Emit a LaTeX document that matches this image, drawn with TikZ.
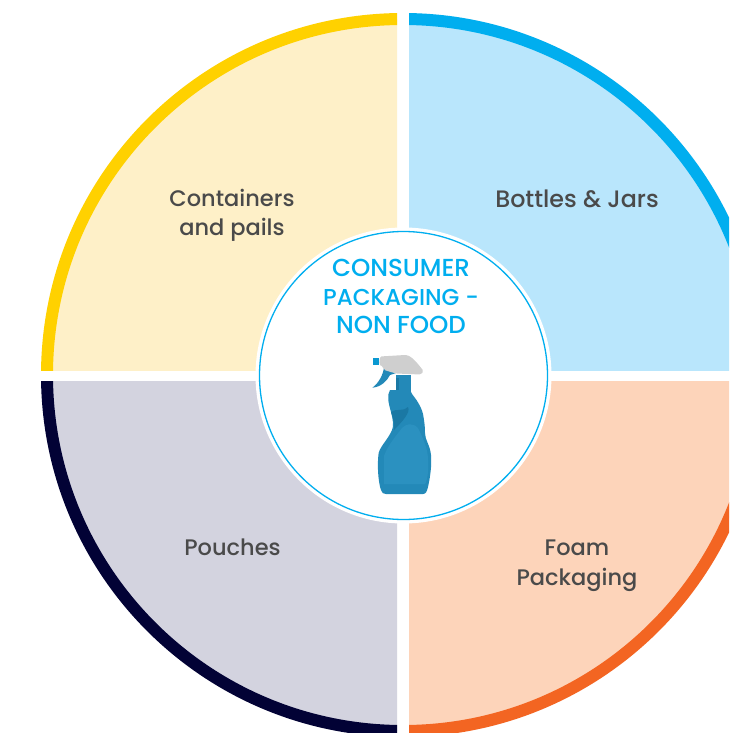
\documentclass[tikz,border=0pt]{standalone}
\usepackage{fontspec}
\setmainfont{Poppins Medium}
\definecolor{cy}{HTML}{FFD100}\definecolor{cyl}{HTML}{FEF0C8}
\definecolor{cb}{HTML}{00AEEF}\definecolor{cbl}{HTML}{B9E6FC}
\definecolor{cn}{HTML}{020235}\definecolor{cnl}{HTML}{D3D3DF}
\definecolor{co}{HTML}{F36522}\definecolor{col}{HTML}{FDD4BA}
\definecolor{lab}{HTML}{4A4A4A}
\definecolor{bot}{HTML}{2389B8}\definecolor{botd}{HTML}{1A78A4}\definecolor{botl}{HTML}{2B91C0}
\tikzset{seclabel/.style={text=lab,font=\fontsize{22.5pt}{29.5pt}\selectfont,align=center,inner sep=0pt},
  widelabel/.style={seclabel,font=\fontsize{23.8pt}{29.5pt}\selectfont},
  title/.style={text=cb,font=\fontsize{23.5pt}{28.5pt}\selectfont,align=center,inner sep=0pt}}
\newcommand{\quadrant}[6]{%
  \begin{scope}
    \clip (#1,#2) rectangle (#3,#4);
    \fill[#5] (403,375) circle[radius=356];
    \draw[#6,line width=12pt] (403,375) circle[radius=356];
  \end{scope}}
\begin{document}
\begin{tikzpicture}[x=1pt,y=-1pt]
\useasboundingbox (0,0) rectangle (729,733);
\fill[white] (0,0) rectangle (729,733);
\quadrant{0}{0}{397}{370}{cyl}{cy}
\quadrant{409}{0}{729}{370}{cbl}{cb}
\quadrant{0}{381}{397}{733}{cnl}{cn}
\quadrant{409}{381}{729}{733}{col}{co}
\fill[white] (403.5,375.5) circle[radius=148];
\node[circle,draw=cb,line width=1.3pt,fill=white,minimum size=288pt,inner sep=0pt] (hub) at (403.5,375.5) {};
\node[seclabel] (tl) at (232,215.5) {Containers\\and pails};
\node[widelabel] (tr) at (577,199) {Bottles \& Jars};
\node[seclabel] (bl) at (232.5,547) {Pouches};
\node[seclabel] (br) at (577,565.5) {Foam\\Packaging};
\node[title] (ttl) at (401,296.5) {{\fontsize{24.6pt}{28.5pt}\selectfont CONSUMER}\\[0.6pt]{\fontsize{23pt}{28.5pt}\selectfont PACKAGING -}\\{\fontsize{24.6pt}{28.5pt}\selectfont NON FOOD}};
% bottle
\fill[bot] (395.7,375) rectangle (411,392);
\fill[botd] (395.7,378) rectangle (399,392);
\fill[bot] (390,390) .. controls (387,395) and (388,402) .. (391,412)
  .. controls (393,420) and (394,426) .. (392,430)
  .. controls (388,440) and (378,448) .. (378.3,456)
  .. controls (377,470) and (379,485) .. (381,490)
  .. controls (382,493) and (383,494) .. (386,494)
  -- (423,494)
  .. controls (426,494) and (427,491) .. (428,487)
  .. controls (430,478) and (432,465) .. (431,455)
  .. controls (430,445) and (425,440) .. (425,433)
  .. controls (425,425) and (424,420) .. (423,414)
  .. controls (421,406) and (416,399) .. (412,394)
  -- (410,390) -- cycle;
\fill[botl] (384,456) .. controls (388,445) and (396,436) .. (402,428) .. controls (406,424) and (412,422) .. (418,428) .. controls (424,440) and (428,450) .. (428,460) .. controls (429,470) and (427,482) .. (425,484) -- (384,484) -- cycle;
\fill[botd] (391,412) .. controls (396,408) and (404,412) .. (408,407) .. controls (411,412) and (402,422) .. (394,430) .. controls (395,424) and (393,418) .. (391,412) -- cycle;
\fill[bot] (396,373) .. controls (392,369) and (387,366) .. (384,366) .. controls (384,374) and (378,384) .. (372.3,387.7) .. controls (381,387) and (387,381) .. (390,375) -- cycle;
\fill[cb!60!botd] (373.3,358) rectangle (379,365);
\fill[black!19,rounded corners=1.5pt] (380,356.5) -- (405,355) .. controls (412,356) and (418,364) .. (423.5,371) -- (421,374.5) -- (396,373.5) -- (384,370) .. controls (383,366) and (380,365) .. (379.3,364) -- cycle;
\end{tikzpicture}
\end{document}
